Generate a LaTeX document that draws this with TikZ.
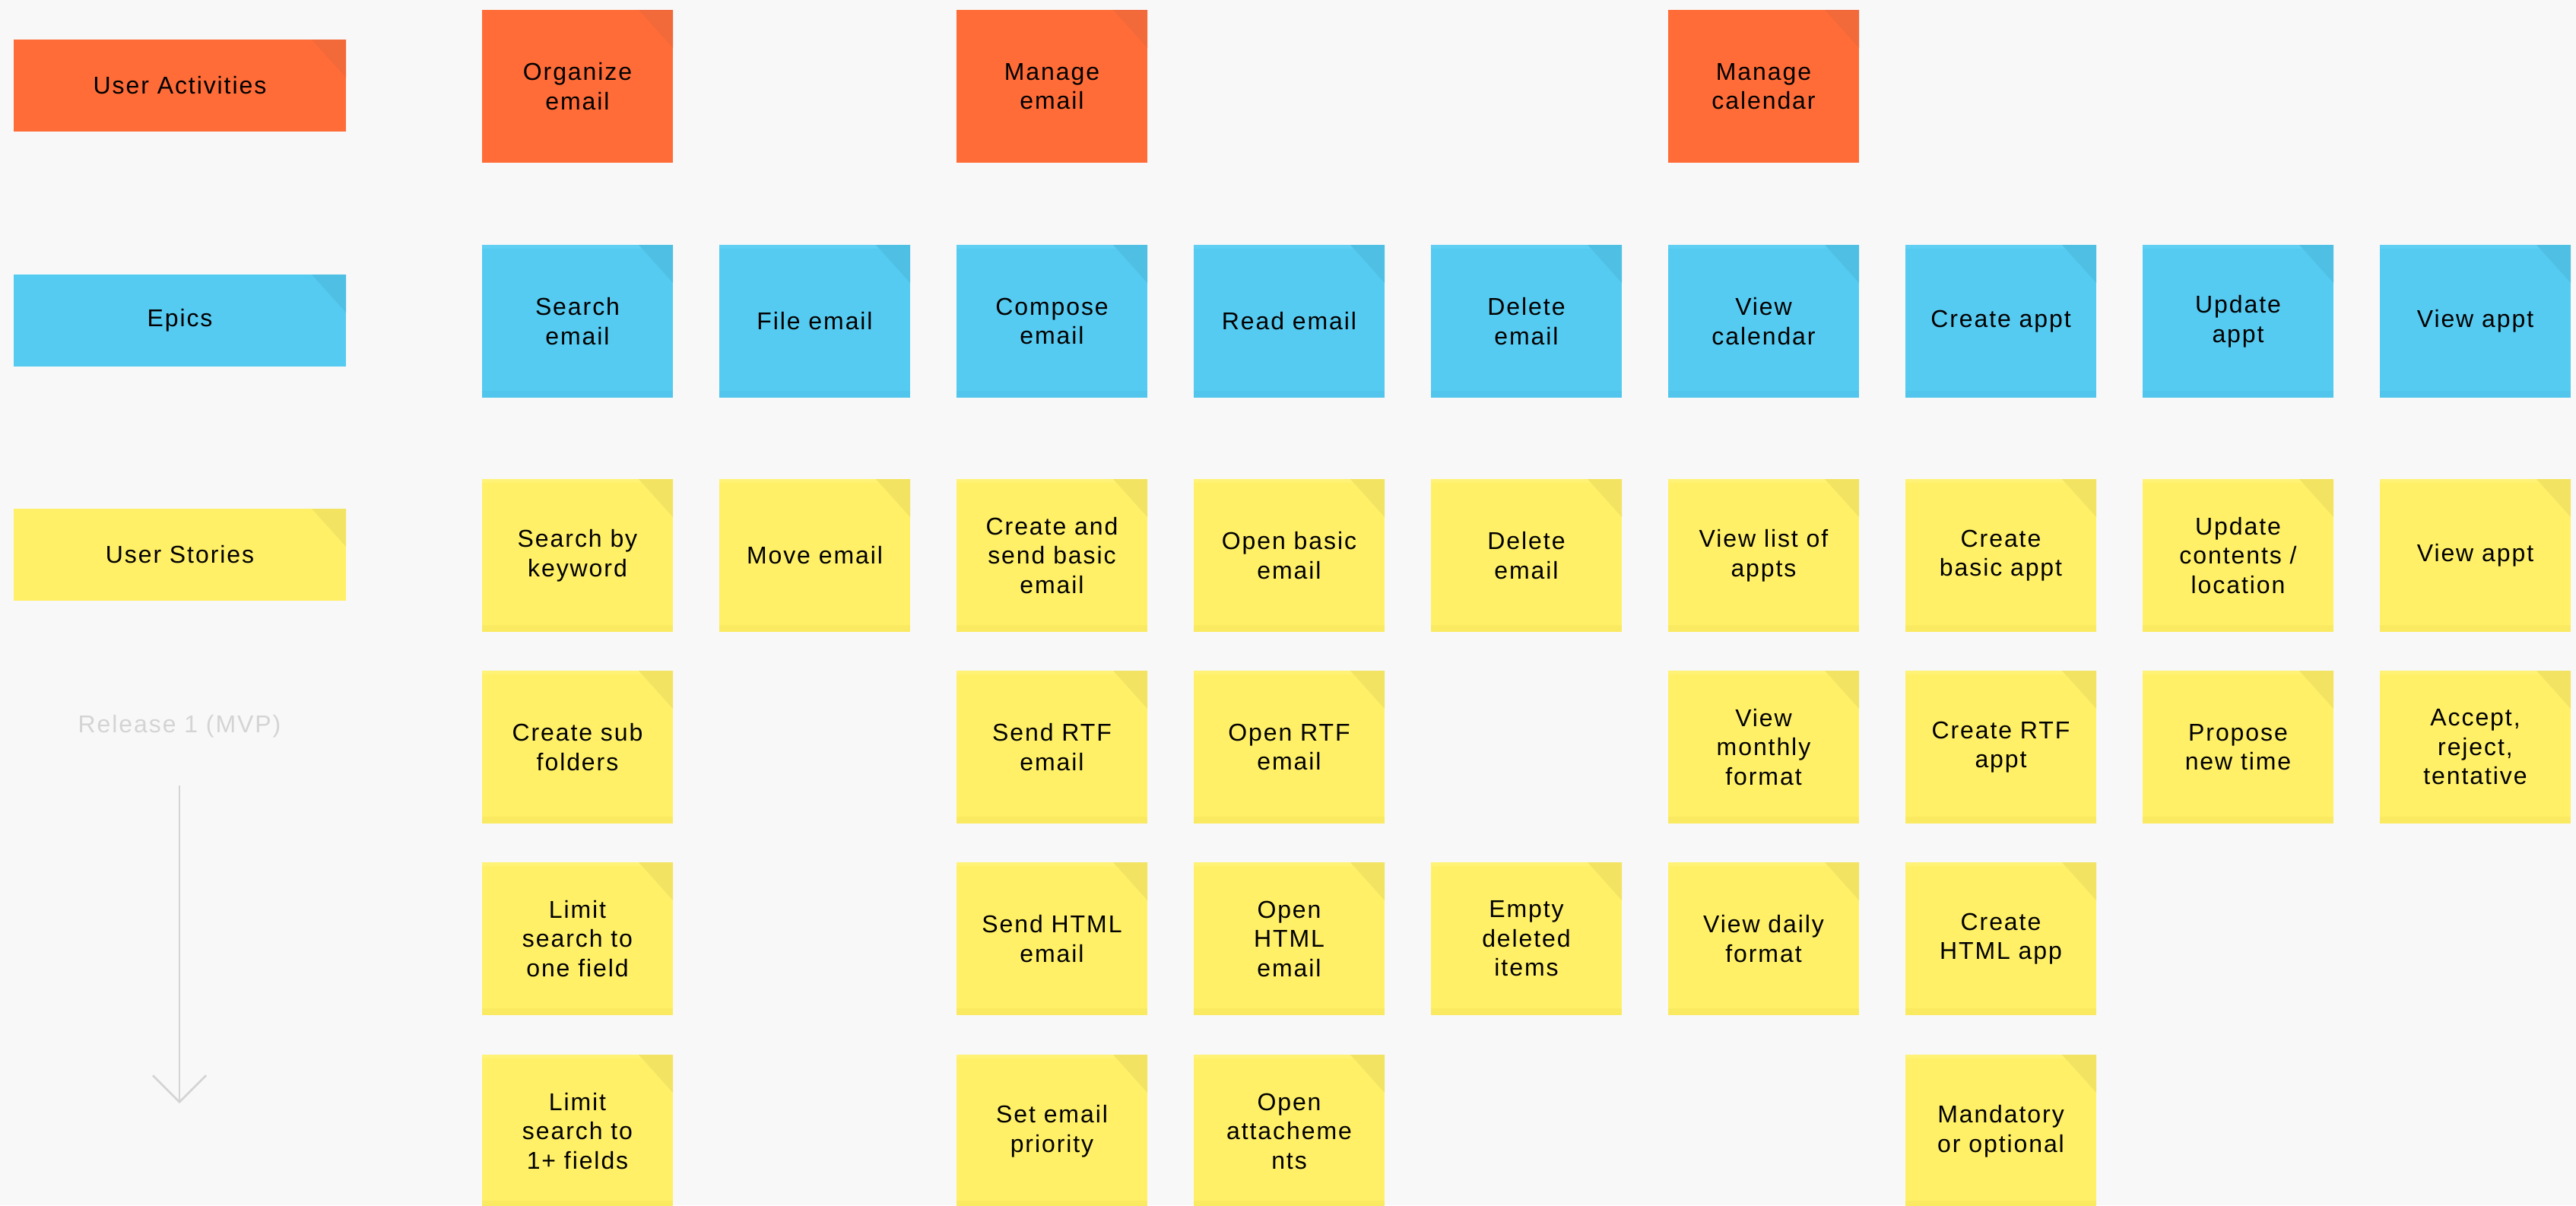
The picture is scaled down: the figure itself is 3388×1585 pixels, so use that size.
\documentclass[tikz,border=0pt]{standalone}
\usepackage{fontspec}
\setmainfont[LetterSpace=6]{Liberation Sans}
\usetikzlibrary{arrows.meta}
\definecolor{bg}{HTML}{F8F8F8}
\definecolor{orangeN}{HTML}{FF6C38}
\definecolor{orangeF}{HTML}{F2693A}
\definecolor{blueN}{HTML}{56CBF1}
\definecolor{blueF}{HTML}{4FC0E4}
\definecolor{blueT}{HTML}{60CFF3}
\definecolor{blueB}{HTML}{52C5EC}
\definecolor{yelN}{HTML}{FFF068}
\definecolor{yelF}{HTML}{F2E462}
\definecolor{yelT}{HTML}{FFF274}
\definecolor{yelB}{HTML}{F9EA62}
\definecolor{relgray}{HTML}{D4D4D4}
\tikzset{
  card/.style={rectangle, inner sep=0pt, outer sep=0pt, anchor=north west,
    align=center, font=\fontsize{32}{38.5}\selectfont, text=black},
  paper/.style n args={4}{card, fill=#1, path picture={
    \fill[#3] (path picture bounding box.north west) rectangle ([yshift=-5pt]path picture bounding box.north east);
    \fill[#4] (path picture bounding box.south west) rectangle ([yshift=9pt]path picture bounding box.south east);
    \fill[#2] ([xshift=-45pt]path picture bounding box.north east) -- (path picture bounding box.north east) -- ([yshift=-50pt]path picture bounding box.north east) -- cycle;}},
  notesize/.style={minimum width=251pt, minimum height=201pt},
  labelsize/.style={minimum width=437pt, minimum height=121pt},
  activity/.style={paper={orangeN}{orangeF}{orangeN}{orangeN}, notesize},
  epic/.style={paper={blueN}{blueF}{blueT}{blueB}, notesize},
  story/.style={paper={yelN}{yelF}{yelT}{yelB}, notesize},
  lblact/.style={paper={orangeN}{orangeF}{orangeN}{orangeN}, labelsize},
  lblepic/.style={paper={blueN}{blueF}{blueN}{blueN}, labelsize},
  lblstory/.style={paper={yelN}{yelF}{yelN}{yelN}, labelsize},
  reltext/.style={font=\fontsize{32}{38.5}\selectfont, text=relgray, inner sep=0pt},
}
\begin{document}
\begin{tikzpicture}[x=1pt,y=-1pt]
\fill[bg] (0,0) rectangle (3388,1585);
\useasboundingbox (0,0) rectangle (3388,1585);

% row labels
\node[lblact] (lua) at (18,52) {User Activities};
\node[lblepic] (lep) at (18,361) {Epics};
\node[lblstory] (lus) at (18,669) {User Stories};

% release marker
\node[reltext] (rel) at (236,955) {Release 1 (MVP)};
\coordinate (arrtop) at (236,1033);
\coordinate (arrtip) at (236,1451);
\draw[relgray, line width=2.5pt, -{Straight Barb[length=35pt,width=70pt]}] (arrtop) -- (arrtip);

% user activities
\node[activity] (a0) at (634,13) {Organize\\email};
\node[activity] (a2) at (1258,13) {Manage\\email};
\node[activity] (a5) at (2194,13) {Manage\\calendar};

% epics
\node[epic] (e0) at (634,322) {Search\\email};
\node[epic] (e1) at (946,322) {File email};
\node[epic] (e2) at (1258,322) {Compose\\email};
\node[epic] (e3) at (1570,322) {Read email};
\node[epic] (e4) at (1882,322) {Delete\\email};
\node[epic] (e5) at (2194,322) {View\\calendar};
\node[epic] (e6) at (2506,322) {Create appt};
\node[epic] (e7) at (2818,322) {Update\\appt};
\node[epic] (e8) at (3130,322) {View appt};

% stories row 1
\node[story] (s10) at (634,630) {Search by\\keyword};
\node[story] (s11) at (946,630) {Move email};
\node[story] (s12) at (1258,630) {Create and\\send basic\\email};
\node[story] (s13) at (1570,630) {Open basic\\email};
\node[story] (s14) at (1882,630) {Delete\\email};
\node[story] (s15) at (2194,630) {View list of\\appts};
\node[story] (s16) at (2506,630) {Create\\basic appt};
\node[story] (s17) at (2818,630) {Update\\contents /\\location};
\node[story] (s18) at (3130,630) {View appt};

% stories row 2
\node[story] (s20) at (634,882) {Create sub\\folders};
\node[story] (s22) at (1258,882) {Send RTF\\email};
\node[story] (s23) at (1570,882) {Open RTF\\email};
\node[story] (s25) at (2194,882) {View\\monthly\\format};
\node[story] (s26) at (2506,882) {Create RTF\\appt};
\node[story] (s27) at (2818,882) {Propose\\new time};
\node[story] (s28) at (3130,882) {Accept,\\reject,\\tentative};

% stories row 3
\node[story] (s30) at (634,1134) {Limit\\search to\\one field};
\node[story] (s32) at (1258,1134) {Send HTML\\email};
\node[story] (s33) at (1570,1134) {Open\\HTML\\email};
\node[story] (s34) at (1882,1134) {Empty\\deleted\\items};
\node[story] (s35) at (2194,1134) {View daily\\format};
\node[story] (s36) at (2506,1134) {Create\\HTML app};

% stories row 4
\node[story] (s40) at (634,1387) {Limit\\search to\\1+ fields};
\node[story] (s42) at (1258,1387) {Set email\\priority};
\node[story] (s43) at (1570,1387) {Open\\attacheme\\nts};
\node[story] (s46) at (2506,1387) {Mandatory\\or optional};
\end{tikzpicture}
\end{document}
